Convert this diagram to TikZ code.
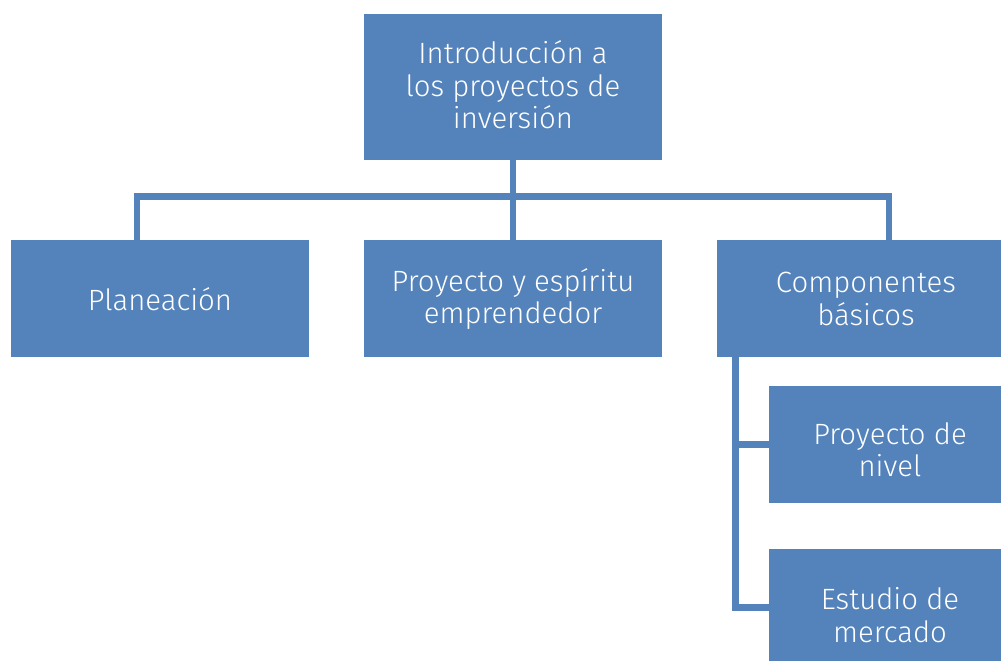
\documentclass[tikz,border=0pt]{standalone}
\usepackage{fontspec}
\setmainfont{Fira Sans}[UprightFont=* Light]
\definecolor{boxblue}{RGB}{84,130,186}
\begin{document}
\begin{tikzpicture}[x=0.75pt,y=-0.75pt,
  box/.style={rectangle,fill=boxblue,draw=none,inner sep=0pt},
  wide/.style={box,minimum width=223.5pt,minimum height=87.75pt},
  narrow/.style={box,minimum width=181.5pt,minimum height=87.75pt},
  label text/.style={text=white,align=center,inner sep=0pt,
    font=\fontsize{22}{24.5}\selectfont},
  link/.style={draw=boxblue,line width=5pt,line join=miter}]
\useasboundingbox (0,0) rectangle (1001,661);
\clip (0,0) rectangle (1001,661);
\fill[white] (0,0) rectangle (1001,661);
\node[box,minimum width=223.5pt,minimum height=109.5pt] (top) at (513,87) {};
\node[wide] (plan) at (160,298.5) {};
\node[wide] (proy) at (513,298.5) {};
\node[wide] (comp) at (866,298.5) {};
\node[narrow] (nivel) at (890,444.5) {};
\node[narrow] (estudio) at (890,607.5) {};
\node[label text] (topt) at ([yshift=1.5pt]top.center) {Introducción a\\los proyectos de\\inversión};
\node[label text] (plant) at ([yshift=-0.5pt]plan.center) {Planeación};
\node[label text] (proyt) at ([yshift=-0.5pt]proy.center) {Proyecto y espíritu\\emprendedor};
\node[label text] (compt) at ([yshift=-0.5pt]comp.center) {Componentes\\básicos};
\node[label text] (nivelt) at ([yshift=-4pt]nivel.center) {Proyecto de\\nivel};
\node[label text] (estudiot) at ([yshift=-5.5pt]estudio.center) {Estudio de\\mercado};
\coordinate (bus) at (513,196.7);
\coordinate (dl) at (137,196.7);
\coordinate (dr) at (889,196.7);
\coordinate (sx) at (735.7,357);
\draw[link] (top.south) -- (bus) -- (proy.north);
\draw[link] (dl |- plan.north) -- (dl) -- (dr) -- (dr |- comp.north);
\draw[link] (sx) |- (estudio.west);
\draw[link] (sx |- nivel.west) -- (nivel.west);
\end{tikzpicture}
\end{document}
